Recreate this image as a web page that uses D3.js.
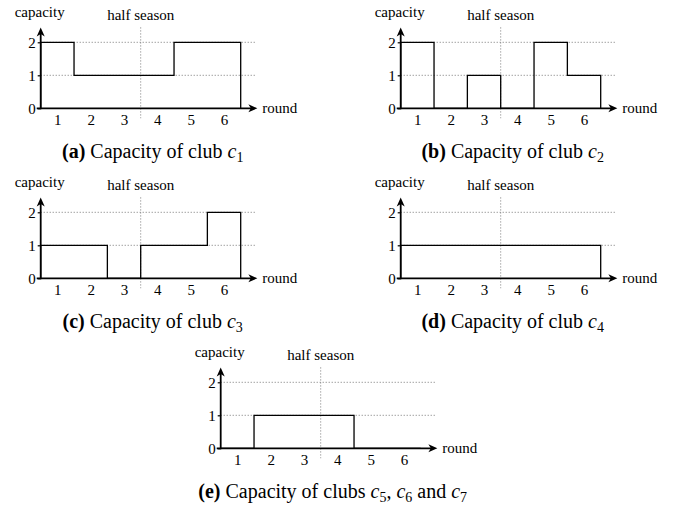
<!DOCTYPE html>
<html><head><meta charset="utf-8">
<script src="https://cdn.jsdelivr.net/npm/d3@7"></script>
<style>
html,body{margin:0;padding:0;background:#fff;}
svg{display:block;}
text{font-family:"Liberation Serif","Times New Roman",serif;fill:#000;}
</style></head>
<body>
<svg id="chart" width="675" height="509"></svg>
<script>
const rounds = [1, 2, 3, 4, 5, 6];
const capTicks = [0, 1, 2];
const halfSeason = 3.5;
const clubA = [2, 1, 1, 1, 2, 2];
const clubB = [2, 0, 1, 0, 2, 1];
const clubC = [1, 1, 0, 1, 1, 2];
const clubD = [1, 1, 1, 1, 1, 1];
const clubE = [0, 1, 1, 1, 0, 0];
const panelLetters = ["a", "b", "c", "d", "e"];
const captionTexts = ["Capacity of club ", "Capacity of club ", "Capacity of club ", "Capacity of club ", "Capacity of clubs "];
const captionSubs = [["1"], ["2"], ["3"], ["4"], ["5", "6", "7"]];

const FONT = '"Liberation Serif","Times New Roman",serif';

const panels = [
  {ox: 40.7, oy: 108.3, values: clubA},
  {ox: 400.7, oy: 108.3, values: clubB},
  {ox: 40.7, oy: 278.3, values: clubC},
  {ox: 400.7, oy: 278.3, values: clubD},
  {ox: 220.7, oy: 448.3, values: clubE}
];

const svg = d3.select("#chart");

panels.forEach((p, idx) => {
  const g = svg.append("g").attr("font-family", FONT);
  const x = d3.scaleLinear().domain([0.5, 6.5]).range([p.ox, p.ox + 200]);
  const y = d3.scaleLinear().domain([0, 2]).range([p.oy, p.oy - 66]);

  // gridlines
  g.selectAll(".grid").data(capTicks.filter(d => d > 0)).enter().append("line")
    .attr("x1", x(0.5)).attr("x2", x(6.92))
    .attr("y1", d => y(d)).attr("y2", d => y(d))
    .attr("stroke", "#777").attr("stroke-width", 1)
    .attr("stroke-dasharray", "1,2");

  // half season line
  g.append("line")
    .attr("x1", x(halfSeason)).attr("x2", x(halfSeason))
    .attr("y1", y(2.45)).attr("y2", y(-0.3))
    .attr("stroke", "#777").attr("stroke-width", 1)
    .attr("stroke-dasharray", "1,2");

  // step path
  const pts = [[0.5, 0]];
  p.values.forEach((v, i) => { pts.push([rounds[i] - 0.5, v]); pts.push([rounds[i] + 0.5, v]); });
  pts.push([6.5, 0]);
  g.append("path")
    .attr("d", d3.line().x(d => x(d[0])).y(d => y(d[1]))(pts))
    .attr("fill", "none").attr("stroke", "#000").attr("stroke-width", 1.3);

  // axes lines
  const xEnd = x(7.0), yTop = y(2.45);
  g.append("line").attr("x1", x(0.5) - 4).attr("x2", xEnd - 5)
    .attr("y1", y(0)).attr("y2", y(0)).attr("stroke", "#000").attr("stroke-width", 1.8);
  g.append("line").attr("x1", x(0.5)).attr("x2", x(0.5))
    .attr("y1", y(0) + 0.9).attr("y2", yTop + 5).attr("stroke", "#000").attr("stroke-width", 1.8);
  // arrow heads
  g.append("path")
    .attr("d", `M${xEnd},${y(0)} L${xEnd - 9},${y(0) - 4} L${xEnd - 6.5},${y(0)} L${xEnd - 9},${y(0) + 4} Z`)
    .attr("fill", "#000");
  g.append("path")
    .attr("d", `M${x(0.5)},${yTop} L${x(0.5) - 4},${yTop + 9} L${x(0.5)},${yTop + 6.5} L${x(0.5) + 4},${yTop + 9} Z`)
    .attr("fill", "#000");

  // y axis ticks
  const ya = d3.axisLeft(y).tickValues(capTicks).tickSize(3).tickPadding(2).tickFormat(d3.format("d"));
  const yg = g.append("g").attr("transform", `translate(${x(0.5)},0)`).call(ya).attr("font-family", FONT);
  yg.select(".domain").remove();
  yg.selectAll(".tick line").attr("stroke", "#000").attr("stroke-width", 1.2);
  yg.selectAll(".tick text").style("font-family", FONT).style("font-size", "15px").attr("fill", "#000");

  // x axis labels
  const xa = d3.axisBottom(x).tickValues(rounds).tickSize(0).tickPadding(6).tickFormat(d3.format("d"));
  const xg = g.append("g").attr("transform", `translate(0,${y(0)})`).call(xa).attr("font-family", FONT);
  xg.select(".domain").remove();
  xg.selectAll(".tick text").style("font-family", FONT).style("font-size", "15px").attr("fill", "#000");

  // labels
  g.append("text").attr("x", x(0.5) - 1).attr("y", y(0) - 91).attr("text-anchor", "middle")
    .style("font-family", FONT).style("font-size", "15px").text("capacity");
  g.append("text").attr("x", x(halfSeason)).attr("y", y(0) - 88).attr("text-anchor", "middle")
    .style("font-family", FONT).style("font-size", "15px").text("half season");
  g.append("text").attr("x", xEnd + 5).attr("y", y(0) + 4.5)
    .style("font-family", FONT).style("font-size", "15px").text("round");

  // caption
  const cap = g.append("text").attr("x", p.ox + 112).attr("y", p.oy + 50)
    .attr("text-anchor", "middle").style("font-family", FONT).style("font-size", "20px");
  cap.append("tspan").style("font-weight", "bold").text(`(${panelLetters[idx]})`);
  cap.append("tspan").text(" " + captionTexts[idx]);
  const subs = captionSubs[idx];
  subs.forEach((s, k) => {
    if (k > 0) cap.append("tspan").attr("dy", -4).text(k === subs.length - 1 ? " and " : ", ");
    cap.append("tspan").style("font-style", "italic").text("c");
    cap.append("tspan").attr("dy", 4).style("font-size", "14px").text(s);
  });
});
</script>
</body></html>
